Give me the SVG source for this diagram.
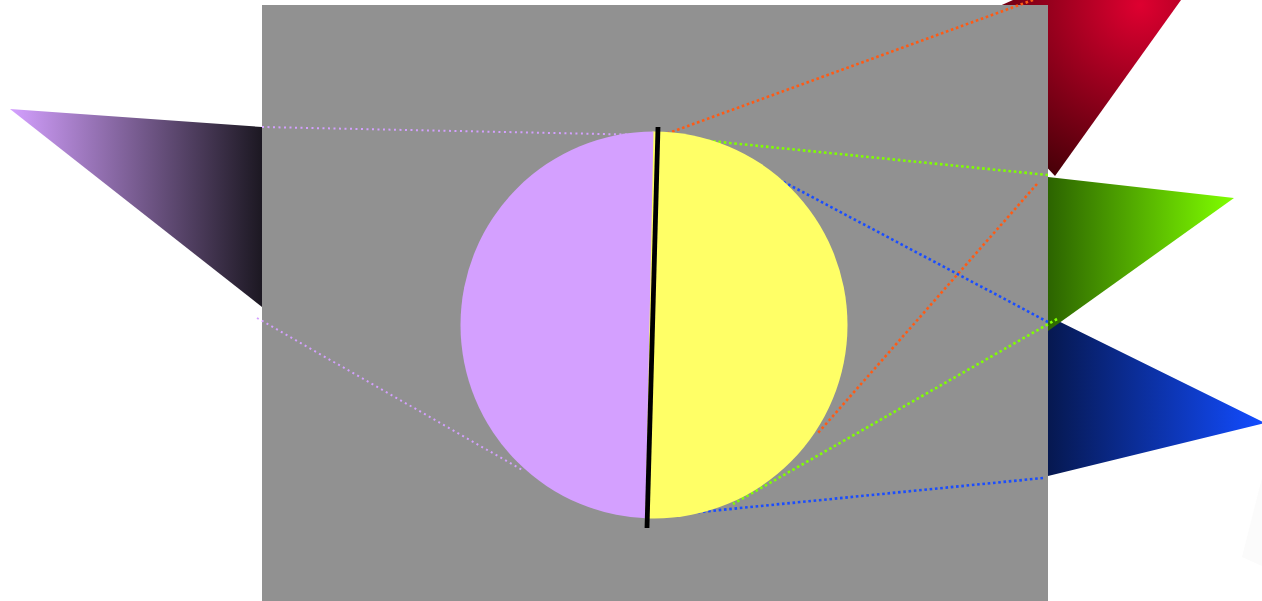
<svg xmlns="http://www.w3.org/2000/svg" width="1262" height="601" viewBox="0 0 1262 601">
<style>
.dot{fill:none;stroke-width:2.6;stroke-dasharray:2.6 2.7;}
.pu{stroke:#d4a0ff;stroke-width:2;stroke-dasharray:2 3.5;}
.or{stroke:#ff5a14;}
.gr{stroke:#80ff00;}
.bl{stroke:#1a4dff;}
</style>
<defs>
<linearGradient id="gPurple" gradientUnits="userSpaceOnUse" x1="10" y1="0" x2="262" y2="0">
<stop offset="0" stop-color="#d4a0ff"/>
<stop offset="1" stop-color="#1c1822"/>
</linearGradient>
<radialGradient id="gRed" gradientUnits="userSpaceOnUse" cx="1140" cy="5" r="210">
<stop offset="0" stop-color="#de0030"/>
<stop offset="1" stop-color="#380004"/>
</radialGradient>
<linearGradient id="gGreen" gradientUnits="userSpaceOnUse" x1="1048" y1="0" x2="1234" y2="0">
<stop offset="0" stop-color="#2c6400"/>
<stop offset="1" stop-color="#80ff00"/>
</linearGradient>
<linearGradient id="gBlue" gradientUnits="userSpaceOnUse" x1="1048" y1="0" x2="1262" y2="0">
<stop offset="0" stop-color="#061850"/>
<stop offset="1" stop-color="#124cff"/>
</linearGradient>
<clipPath id="leftHalf">
<polygon points="400,-19 653.5,131 645.5,518 620,700 400,700"/>
</clipPath>
<clipPath id="rightHalf">
<polygon points="700,-19 653,110 652.5,131 644.5,518 644,540 700,700 900,700 900,-19"/>
</clipPath>
</defs>
<rect width="1262" height="601" fill="#ffffff"/>
<polygon points="1242,557 1262,478 1262,566" fill="#fbfbfb"/>
<polygon points="10,109 262,127 262,307" fill="url(#gPurple)"/>
<polygon points="1013,0 1181,0 1055,176 1040,160 995,8" fill="url(#gRed)"/>
<polygon points="1040,312 1265,423 1048,476 1040,478" fill="url(#gBlue)"/>
<polygon points="1048,177 1234,198 1048,331" fill="url(#gGreen)"/>
<rect x="262" y="5" width="786" height="596" fill="#919191"/>
<g id="connectors">
<line class="dot pu" x1="262" y1="127" x2="650" y2="135"/>
<line class="dot pu" x1="257" y1="318" x2="524" y2="471"/>
<line class="dot or" x1="1033" y1="0" x2="655" y2="138"/>
<line class="dot or" x1="1037" y1="184" x2="818" y2="433"/>
<line class="dot gr" x1="1048" y1="175" x2="690" y2="139"/>
<line class="dot gr" x1="1057" y1="319" x2="733" y2="504"/>
<line class="dot bl" x1="1048" y1="322" x2="780" y2="180"/>
<line class="dot bl" x1="1043" y1="478" x2="680" y2="514"/>
</g>
<circle cx="654" cy="325" r="193.5" fill="#ffff66" clip-path="url(#rightHalf)"/>
<circle cx="654" cy="325" r="193.5" fill="#d4a0ff" clip-path="url(#leftHalf)"/>
<line x1="658" y1="127" x2="647" y2="528" stroke="#000000" stroke-width="4.8"/>
</svg>
